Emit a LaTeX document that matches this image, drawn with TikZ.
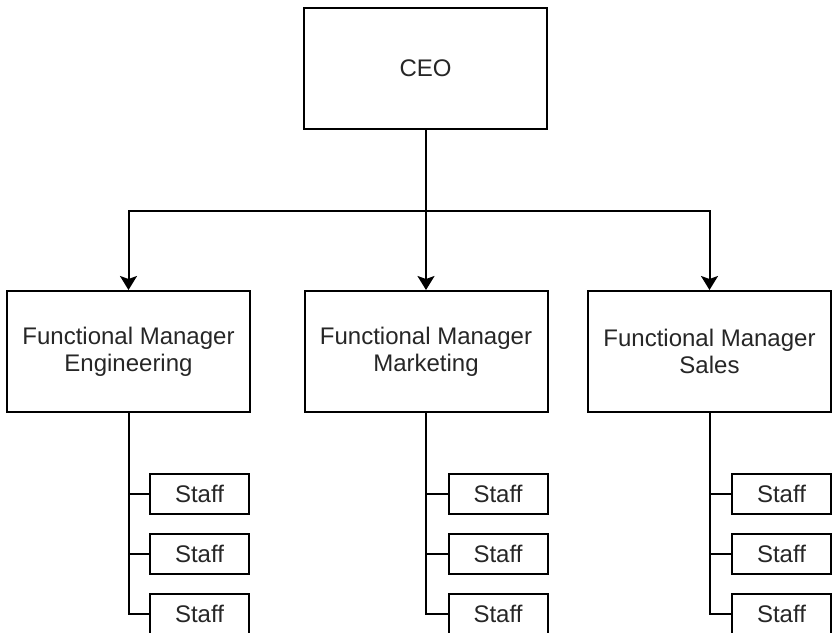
\documentclass[tikz,border=0pt]{standalone}
\usepackage{fontspec}
\setmainfont{Liberation Sans}
\usetikzlibrary{arrows.meta,positioning}

\tikzset{
  unitbox/.style={draw, line width=2pt, inner sep=0pt, text=black!85,
    font=\fontsize{24}{27}\selectfont, align=center},
  bigbox/.style={unitbox, minimum width=243pt, minimum height=121pt},
  staffbox/.style={unitbox, minimum width=99pt, minimum height=40pt},
  link/.style={line width=2pt},
  arrowlink/.style={link, -{Stealth[width=17pt,length=14pt,inset=3pt]}}
}

\begin{document}
\begin{tikzpicture}[x=1pt,y=-1pt]
        \useasboundingbox (0,0) rectangle (832,632);

        % Top box
        \node[bigbox] (ceo) at (425.5,68.5) {CEO};

        % Functional managers
        \node[bigbox] (eng) at (128.5,351.5) {Functional Manager\\Engineering};
        \node[bigbox] (mkt) at (426,351.5) {Functional Manager\\Marketing};
        \node[bigbox] (sal) at (709.5,351.5) {Functional Manager\\Sales};

        % CEO to managers
        \foreach \m in {eng,mkt,sal}
          \draw[arrowlink] (ceo.south) -- ++(0,81) -| (\m.north);

        % Staff under each manager
        \foreach \m/\x in {eng/199.5, mkt/498, sal/781.5}
          \foreach \i/\y in {1/493.5, 2/554, 3/614} {
            \node[staffbox] (\m\i) at (\x,\y) {Staff};
            \draw[link] (\m.south) |- (\m\i.west);
          }
    \end{tikzpicture}
\end{document}
